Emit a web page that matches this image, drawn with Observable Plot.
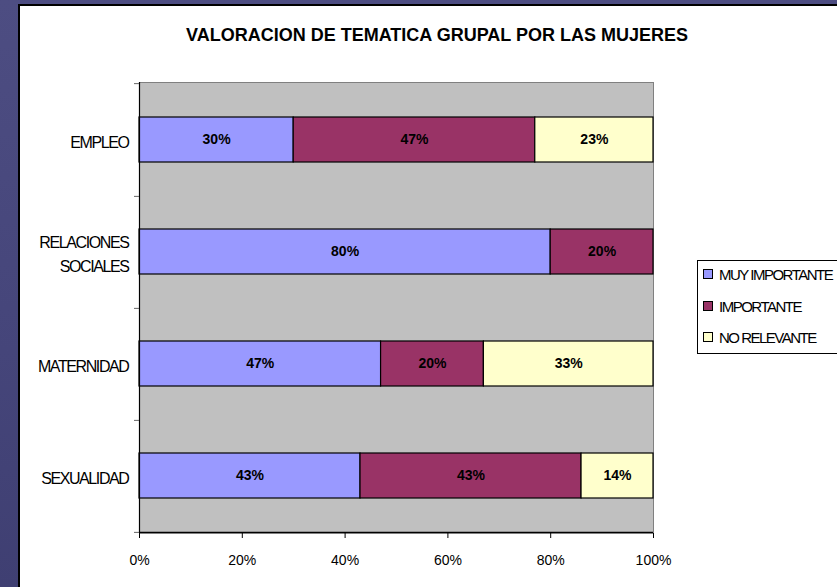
<!DOCTYPE html>
<html>
<head>
<meta charset="utf-8">
<script src="https://cdn.jsdelivr.net/npm/d3@7"></script>
<script src="https://cdn.jsdelivr.net/npm/@observablehq/plot@0.6"></script>
<style>
  html, body { margin: 0; padding: 0; }
  body { width: 837px; height: 587px; overflow: hidden; position: relative;
         background: linear-gradient(180deg, #4d4d82 0%, #45457a 60%, #3f3f72 100%);
         font-family: "Liberation Sans", Arial, sans-serif; }
  #panel { position: absolute; left: 18px; top: 4px; width: 830px; height: 600px;
           background: #fff; border-left: 2px solid #000; border-top: 2px solid #000; }
  #title { position: absolute; left: 0; width: 874px; top: 25px; line-height: 20px; text-align: center;
           font-weight: bold; font-size: 18px; color: #000; }
  #chart { position: absolute; left: 0; top: 0; }
  #chart svg g[aria-label="y-axis tick label"] text { letter-spacing: -1.4px; }
  #legend { position: absolute; left: 697px; top: 260px; width: 160px; height: 92px;
            border: 1px solid #000; background: #fff; font-size: 15px; letter-spacing: -1.5px; }
  .item { position: absolute; left: 5px; height: 16px; line-height: 16px; white-space: nowrap; }
  .sw { display: inline-block; width: 8px; height: 8px; border: 1px solid #000;
        margin-right: 6px; vertical-align: 1px; }
</style>
</head>
<body>
<div id="panel"></div>
<div id="chart"></div>
<div id="title">VALORACION DE TEMATICA GRUPAL POR LAS MUJERES</div>
<div id="legend"></div>
<script>
const categories = ["EMPLEO", "RELACIONES\nSOCIALES", "MATERNIDAD", "SEXUALIDAD"];
const series = ["MUY IMPORTANTE", "IMPORTANTE", "NO RELEVANTE"];
const colors = ["#9999ff", "#993366", "#ffffcc"];
const muyImportante = [30, 80, 47, 43];
const importante = [47, 20, 20, 43];
const noRelevante = [23, 0, 33, 14];
const xTicks = [0, 20, 40, 60, 80, 100];

const seriesValues = [muyImportante, importante, noRelevante];
const data = [];
categories.forEach((c, i) => {
  series.forEach((s, j) => data.push({cat: c, series: s, value: seriesValues[j][i]}));
});

const W = 837, H = 587;
const mL = 139, mR = W - 653, mT = 82, mB = H - 533;
const step = (H - mT - mB) / categories.length;
const tickLen = 5 / (W - mL - mR) * 100;

const chart = Plot.plot({
  width: W, height: H,
  marginLeft: mL, marginRight: mR, marginTop: mT, marginBottom: mB,
  style: {fontFamily: "'Liberation Sans', Arial, sans-serif", fontSize: "14px", background: "transparent", overflow: "visible", color: "#000"},
  x: {domain: [0, 100]},
  y: {domain: categories, paddingInner: 0.6, paddingOuter: 0.3},
  color: {domain: series, range: colors},
  marks: [
    Plot.frame({fill: "#c0c0c0", stroke: "#808080"}),
    Plot.barX(data, Plot.stackX({y: "cat", x: "value", z: "series", fill: "series", stroke: "#000", strokeWidth: 1.2, filter: d => d.value > 0})),
    Plot.text(data, Plot.stackX({y: "cat", x: "value", z: "series", text: d => d.value + "%", filter: d => d.value > 0, fontWeight: "bold", fontSize: 14, fill: "#000"})),
    Plot.ruleX([0], {stroke: "#000", strokeWidth: 1.2}),
    Plot.ruleY(categories, {y: d => d, x1: -tickLen, x2: 0, dy: step / 2, stroke: "#666"}),
    Plot.ruleY([categories[0]], {y: d => d, x1: -tickLen, x2: 0, dy: -step / 2, stroke: "#666"}),
    Plot.ruleY([categories[categories.length - 1]], {y: d => d, x1: 0, x2: 100, dy: step / 2, stroke: "#000", strokeWidth: 1.2}),
    Plot.axisX({ticks: xTicks, tickFormat: d => d + "%", tickSize: 5, tickPadding: 17, label: null, fontSize: 14}),
    Plot.axisY({tickSize: 0, tickPadding: 11, label: null, lineHeight: 1.5, fontSize: 16})
  ]
});
document.getElementById("chart").appendChild(chart);

const legend = document.getElementById("legend");
const rowsTop = [6, 38, 69];
series.forEach((s, i) => {
  const div = document.createElement("div");
  div.className = "item";
  div.style.top = rowsTop[i] + "px";
  div.innerHTML = `<span class="sw" style="background:${colors[i]}"></span>${s}`;
  legend.appendChild(div);
});
</script>
</body>
</html>
